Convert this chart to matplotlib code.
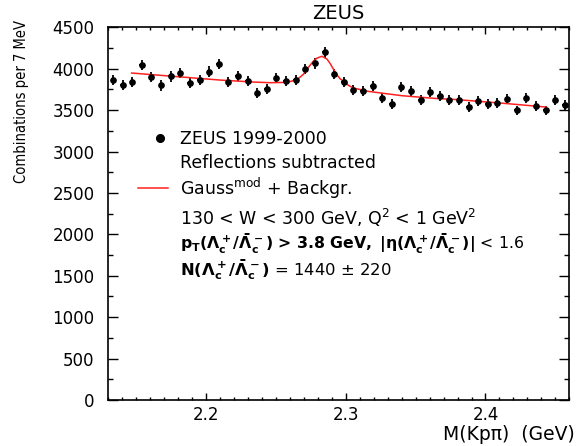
import matplotlib
matplotlib.use("Agg")
import matplotlib.pyplot as plt
from matplotlib import font_manager
from matplotlib.ticker import MultipleLocator

# measured spectrum: bin centres (GeV), entries per bin, errors
mass = [2.1334, 2.1403, 2.1472, 2.1540, 2.1609, 2.1678, 2.1747, 2.1816,
        2.1884, 2.1953, 2.2022, 2.2091, 2.2160, 2.2228, 2.2297, 2.2366,
        2.2435, 2.2504, 2.2572, 2.2641, 2.2710, 2.2779, 2.2848, 2.2916,
        2.2985, 2.3054, 2.3123, 2.3192, 2.3260, 2.3329, 2.3398, 2.3467,
        2.3536, 2.3604, 2.3673, 2.3742, 2.3811, 2.3880, 2.3948, 2.4017,
        2.4086, 2.4155, 2.4224, 2.4292, 2.4361, 2.4430, 2.4499, 2.4568]
counts = [3863, 3803, 3839, 4045, 3903, 3798, 3907, 3948,
          3831, 3867, 3964, 4057, 3843, 3915, 3855, 3706,
          3754, 3887, 3851, 3863, 3996, 4064, 4197, 3936,
          3839, 3748, 3732, 3795, 3641, 3579, 3775, 3726,
          3621, 3724, 3666, 3621, 3621, 3537, 3613, 3573,
          3581, 3634, 3496, 3641, 3553, 3496, 3621, 3561]
errors = [62, 62, 62, 64, 62, 62, 62, 63,
          62, 62, 63, 64, 62, 63, 62, 61,
          61, 62, 62, 62, 63, 64, 65, 63,
          62, 61, 61, 62, 60, 60, 61, 61,
          60, 61, 61, 60, 60, 59, 60, 60,
          60, 60, 59, 60, 60, 59, 60, 60]

# fitted curve (Gauss^mod + background)
fit_mass = [2.1467, 2.1801, 2.2100, 2.2220, 2.2339, 2.2459, 2.2578, 2.2650,
            2.2674, 2.2698, 2.2722, 2.2746, 2.2769, 2.2794, 2.2829, 2.2865,
            2.2889, 2.2913, 2.2936, 2.2961, 2.2987, 2.3020, 2.3056, 2.3163,
            2.3403, 2.3642, 2.3785, 2.4110, 2.4435]
fit_vals = [3948, 3903, 3863, 3851, 3839, 3831, 3835, 3867,
            3900, 3935, 3995, 4045, 4093, 4128, 4150, 4117,
            4060, 3990, 3927, 3875, 3847, 3798, 3766, 3726,
            3674, 3641, 3628, 3585, 3537]

plt.rcParams['mathtext.fontset'] = 'dejavusans'

# a condensed face for the y label if one is around
ylab_prop = font_manager.FontProperties(family='DejaVu Sans', size=9.5)
for f in font_manager.fontManager.ttflist:
    fn = f.fname.replace('-', '').replace('_', '')
    if 'LiberationSansNarrow' in fn and 'Bold' not in fn and 'Italic' not in fn:
        ylab_prop = font_manager.FontProperties(fname=f.fname, size=12.5)
        break
    if 'DejaVuSansCondensed.ttf' in fn:
        ylab_prop = font_manager.FontProperties(fname=f.fname, size=10.5)

W, H = 579, 446
fig = plt.figure(figsize=(W / 100, H / 100), dpi=100)
ax = fig.add_axes([108.3 / W, 1 - 400 / H, 461 / W, 372.7 / H])

ax.errorbar(mass, counts, yerr=errors, xerr=0.0018, fmt='o', color='black',
            markersize=3.8, elinewidth=1.3, capsize=0)
ax.plot(fit_mass, fit_vals, color='#ff2020', lw=1.1)

ax.set_xlim(2.13, 2.46)
ax.set_ylim(0, 4500)
ax.xaxis.set_major_locator(MultipleLocator(0.1))
ax.xaxis.set_minor_locator(MultipleLocator(0.01))
ax.yaxis.set_major_locator(MultipleLocator(500))
ax.yaxis.set_minor_locator(MultipleLocator(250))
ax.tick_params(axis='x', which='major', direction='in', top=True, length=5, width=1, pad=4, labelsize=12)
ax.tick_params(axis='x', which='minor', direction='in', top=True, length=2.5, width=1)
ax.tick_params(axis='y', which='major', direction='in', right=True, length=7, width=1, pad=10, labelsize=12)
ax.tick_params(axis='y', which='minor', direction='in', right=True, length=3.6, width=1)
ax.set_xticks([2.2, 2.3, 2.4])
ax.set_xticklabels(['2.2', '2.3', '2.4'])
for s in ax.spines.values():
    s.set_linewidth(1.2)

ax.set_title('ZEUS', fontsize=14, pad=6)

fig.text(22 / W, 1 - 20 / H, 'Combinations per 7 MeV', rotation=90, ha='center', va='top',
         fontproperties=ylab_prop)
fig.text(575 / W, 1 - 435 / H, 'M(Kpπ)  (GeV)', ha='right', va='center', fontsize=13.5)

# legend and cut information
tx = 0.1556
fs = 12.5
ax.plot([0.112], [0.703], 'o', color='black', markersize=5.5, transform=ax.transAxes)
ax.plot([0.065, 0.130], [0.568, 0.568], color='#ff2020', lw=1.1, transform=ax.transAxes)
ax.text(tx, 0.700, 'ZEUS 1999-2000', transform=ax.transAxes, va='center', fontsize=fs)
ax.text(tx, 0.635, 'Reflections subtracted', transform=ax.transAxes, va='center', fontsize=fs)
ax.text(tx, 0.568, r'Gauss$^{\rm mod}$ + Backgr.', transform=ax.transAxes, va='center', fontsize=fs)
ax.text(tx, 0.4875, r'130 < W < 300 GeV, Q$^2$ < 1 GeV$^2$', transform=ax.transAxes,
        va='center', fontsize=fs)
ax.text(tx, 0.420,
        r'$\mathbf{p_T(\Lambda_c^+/\bar{\Lambda}_c^-)\,>\,3.8\ GeV,\ |\eta(\Lambda_c^+/\bar{\Lambda}_c^-)|}$ < 1.6',
        transform=ax.transAxes, va='center', fontsize=11.3)
ax.text(tx, 0.349, r'$\mathbf{N(\Lambda_c^+/\bar{\Lambda}_c^-)}$ = 1440 $\pm$ 220',
        transform=ax.transAxes, va='center', fontsize=11.8)

fig.savefig('out.png', dpi=100)
